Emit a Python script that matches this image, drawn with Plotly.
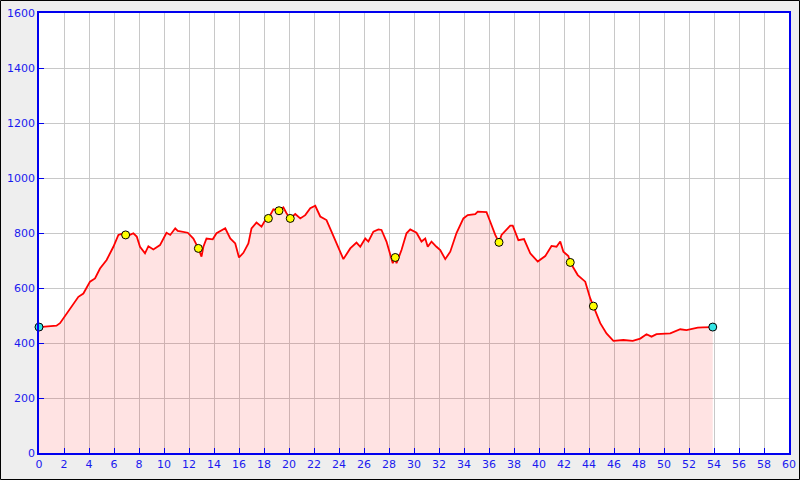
import plotly.graph_objects as go

# Elevation profile (distance km, elevation m)
dist = [0, 1.4, 1.68, 1.95, 2.48, 3.15, 3.55, 4.08, 4.48, 4.88, 5.41, 5.95, 6.35, 6.75, 6.93,
        7.28, 7.55, 7.82, 8.08, 8.48, 8.75, 9.15, 9.68, 9.95, 10.2, 10.5, 10.9, 11.1, 11.4,
        11.9, 12.35, 12.75, 13.0, 13.15, 13.4, 13.9, 14.2, 14.9, 15.3, 15.7, 16.0, 16.35,
        16.75, 17.0, 17.4, 17.8, 18.1, 18.35, 18.75, 19.2, 19.55, 19.8, 20.1, 20.5, 20.9,
        21.3, 21.7, 22.1, 22.5, 23.0, 23.4, 23.95, 24.35, 24.9, 25.4, 25.7, 26.1, 26.35,
        26.75, 27.15, 27.4, 27.8, 28.1, 28.3, 28.5, 28.6, 29.0, 29.4, 29.7, 30.2, 30.6,
        30.9, 31.1, 31.4, 31.8, 32.1, 32.5, 32.9, 33.4, 33.95, 34.3, 34.9, 35.1, 35.8,
        36.1, 36.5, 36.8, 37.0, 37.7, 37.9, 38.35, 38.8, 39.3, 39.9, 40.5, 41.0, 41.4,
        41.7, 41.95, 42.35, 42.5, 43.1, 43.7, 44.1, 44.35, 44.9, 45.4, 45.95, 46.75,
        47.5, 48.1, 48.6, 49.0, 49.4, 50.5, 51.3, 51.8, 52.7, 53.1, 53.9]
elev = [458, 463, 472, 490, 527, 568, 580, 623, 635, 671, 702, 750, 793, 799, 793,
        793, 799, 787, 750, 726, 752, 740, 756, 780, 801, 793, 817, 808, 805,
        801, 780, 744, 714, 750, 780, 777, 799, 817, 780, 762, 711, 728,
        762, 817, 838, 823, 847, 853, 886, 881, 893, 872, 853, 869, 853,
        865, 890, 899, 860, 847, 805, 744, 705, 744, 765, 750, 780, 769,
        805, 813, 811, 769, 726, 690, 711, 690, 738, 799, 813, 801, 769,
        780, 750, 769, 750, 738, 705, 732, 800, 853, 865, 869, 878, 876,
        841, 793, 766, 793, 827, 827, 774, 778, 726, 696, 716, 753, 750,
        769, 732, 716, 693, 647, 623, 562, 534, 472, 435, 408, 411,
        408, 416, 432, 423, 432, 435, 450, 447, 456, 457, 458]

# Waypoints
wp_dist = [6.93, 12.75, 18.35, 19.2, 20.1, 28.5, 36.8, 42.5, 44.35]
wp_elev = [793, 744, 853, 881, 853, 711, 766, 693, 534]
end_dist = [0, 53.9]
end_elev = [458, 458]

x_ticks = list(range(0, 61, 2))
y_ticks = list(range(0, 1601, 200))

fig = go.Figure()
fig.add_trace(go.Scatter(x=dist, y=elev, mode="lines", fill="tozeroy",
                         fillcolor="rgba(255,0,0,0.11)",
                         line=dict(color="#ff0000", width=1.8), hoverinfo="skip"))
fig.add_trace(go.Scatter(x=wp_dist, y=wp_elev, mode="markers",
                         marker=dict(size=8, color="#ffff00", line=dict(color="black", width=1))))
fig.add_trace(go.Scatter(x=end_dist, y=end_elev, mode="markers", cliponaxis=False,
                         marker=dict(size=8, color="#33e5e5", line=dict(color="black", width=1))))

W, H = 800, 480
ml, mr, mt, mb = 39, 11, 13, 27
pw, ph = W - ml - mr, H - mt - mb

fig.update_layout(
    width=W, height=H, showlegend=False,
    margin=dict(l=ml, r=mr, t=mt, b=mb, pad=0, autoexpand=False),
    paper_bgcolor="#eeeeee", plot_bgcolor="white",
    font=dict(family="DejaVu Sans", size=11, color="#1a1aee"),
    shapes=[dict(type="rect", xref="paper", yref="paper",
                 x0=(-ml + 0.5) / pw, x1=(W - ml - 0.5) / pw,
                 y0=(-mb + 0.5) / ph, y1=(H - mb - 0.5) / ph,
                 line=dict(color="black", width=1), layer="above")],
)
axis_common = dict(showgrid=True, gridcolor="#c8c8c8", gridwidth=1, zeroline=False,
                   showline=True, linecolor="#0000ee", linewidth=1.5, mirror=True,
                   ticks="inside", ticklen=5, tickcolor="#0000ee", automargin=False,
                   tickfont=dict(color="#1a1aee", size=11, family="DejaVu Sans"))
fig.update_xaxes(range=[0, 60], tickvals=x_ticks, **axis_common)
fig.update_yaxes(range=[0, 1600], tickvals=y_ticks, **axis_common)

fig.write_html("out.html", config={"displayModeBar": False},
               post_script="document.body.style.margin='0';document.body.style.padding='0';")
